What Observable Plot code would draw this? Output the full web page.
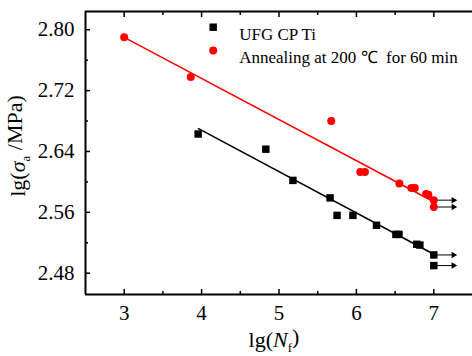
<!DOCTYPE html>
<html><head><meta charset="utf-8">
<script src="https://cdn.jsdelivr.net/npm/d3@7"></script>
<script src="https://cdn.jsdelivr.net/npm/@observablehq/plot@0.6"></script>
<style>
body{margin:0;background:#fff;}
#chart svg{font-family:"Liberation Serif","Times New Roman",serif;}
</style></head><body><div id="chart"></div>
<script>
// UFG CP Ti (black squares)
const ufgX = [3.955, 4.83, 5.18, 5.66, 5.75, 5.955, 6.26, 6.51, 6.55, 6.78, 6.82, 7.0, 7.0];
const ufgY = [2.663, 2.643, 2.602, 2.579, 2.556, 2.556, 2.543, 2.531, 2.531, 2.518, 2.517, 2.504, 2.490];
// Annealing at 200 C for 60 min (red circles)
const annX = [3.0, 3.86, 5.675, 6.05, 6.11, 6.555, 6.71, 6.755, 6.9, 6.93, 7.0, 7.0];
const annY = [2.790, 2.738, 2.680, 2.613, 2.613, 2.598, 2.592, 2.592, 2.584, 2.583, 2.576, 2.567];
// fitted lines
const ufgFitX = [3.96, 7.0];
const ufgFitY = [2.670, 2.505];
const annFitX = [3.0, 7.0];
const annFitY = [2.790, 2.574];
// run-outs (arrows)
const runoutY = [2.576, 2.567, 2.504, 2.490];
const runoutStart = 7.0;
const runoutEnd = 7.28;
// ticks
const xTicks = [3, 4, 5, 6, 7];
const xMinor = [3.5, 4.5, 5.5, 6.5];
const yTicks = [2.48, 2.56, 2.64, 2.72, 2.80];
const yMinor = [2.52, 2.60, 2.68, 2.76];
const xDomain = [2.5, 7.5];
const yDomain = [2.452, 2.824];
const seriesNames = ["UFG CP Ti", "Annealing at 200 \u2103  for 60 min"];

const ufg = ufgX.map((x, i) => ({x, y: ufgY[i]}));
const ann = annX.map((x, i) => ({x, y: annY[i]}));
const ufgFit = ufgFitX.map((x, i) => ({x, y: ufgFitY[i]}));
const annFit = annFitX.map((x, i) => ({x, y: annFitY[i]}));
const runouts = runoutY.map(y => ({x1: runoutStart, x2: runoutEnd, y}));

const plot = Plot.plot({
  width: 472, height: 356,
  marginLeft: 85, marginRight: 0, marginTop: 11, marginBottom: 62,
  style: {fontFamily: "Liberation Serif, Times New Roman, serif", fontSize: "21px", color: "black", background: "white"},
  x: {domain: xDomain, label: null},
  y: {domain: yDomain, label: null},
  marks: [
    Plot.axisX(xTicks, {anchor: "bottom", tickSize: 0, tickPadding: 11, fontSize: 21, stroke: null}),
    Plot.axisX(xTicks, {anchor: "bottom", tickSize: -5, tickFormat: () => "", strokeWidth: 1.5}),
    Plot.axisX(xMinor, {anchor: "bottom", tickSize: -3, tickFormat: () => "", strokeWidth: 1.5}),
    Plot.axisX(xTicks, {anchor: "top", tickSize: -5, tickFormat: () => "", strokeWidth: 1.5}),
    Plot.axisX(xMinor, {anchor: "top", tickSize: -3, tickFormat: () => "", strokeWidth: 1.5}),
    Plot.axisY(yTicks, {anchor: "left", tickSize: 0, tickPadding: 11, fontSize: 21, tickFormat: d3.format(".2f")}),
    Plot.axisY(yTicks, {anchor: "left", tickSize: -5, tickFormat: () => "", strokeWidth: 1.5}),
    Plot.axisY(yMinor, {anchor: "left", tickSize: -3, tickFormat: () => "", strokeWidth: 1.5}),
    Plot.ruleY([yDomain[0]], {strokeWidth: 2}),
    Plot.ruleY([yDomain[1]], {strokeWidth: 2}),
    Plot.ruleX([xDomain[0]], {strokeWidth: 2}),
    Plot.line(annFit, {x: "x", y: "y", stroke: "#ff0000", strokeWidth: 1.6}),
    Plot.line(ufgFit, {x: "x", y: "y", stroke: "black", strokeWidth: 1.6}),
    Plot.link(runouts, {x1: "x1", x2: "x2", y1: "y", y2: "y", stroke: "black", strokeWidth: 1}),
    Plot.dot(runouts, {x: "x2", y: "y", symbol: "triangle", rotate: 90, r: 2.4, fill: "black", dx: -2}),
    Plot.dot(ann, {x: "x", y: "y", r: 4, fill: "#ff0000"}),
    Plot.dot(ufg, {x: "x", y: "y", symbol: "square", r: 4.2, fill: "black"}),
    // legend
    Plot.dot([seriesNames[0]], {frameAnchor: "top-left", dx: 127.7, dy: 15.7, symbol: "square", r: 4.2, fill: "black"}),
    Plot.dot([seriesNames[1]], {frameAnchor: "top-left", dx: 127.7, dy: 39, r: 4, fill: "#ff0000"}),
    Plot.text([seriesNames[0]], {text: d => d, frameAnchor: "top-left", dx: 153.7, dy: 16.5, textAnchor: "start", fontSize: 17}),
    Plot.text([seriesNames[1]], {text: d => d, frameAnchor: "top-left", dx: 153.7, dy: 39.5, textAnchor: "start", fontSize: 17})
  ]
});

const svg = d3.select(plot);
// y-axis title
const yt = svg.append("text")
  .attr("transform", "translate(25,146) rotate(-90)")
  .attr("text-anchor", "middle")
  .attr("font-size", 22)
  .attr("fill", "black");
yt.append("tspan").text("lg(");
yt.append("tspan").attr("font-style", "italic").text("\u03c3");
yt.append("tspan").attr("font-size", 13).attr("dy", "0.35em").text("a");
yt.append("tspan").attr("dy", "-0.35em").text(" /MPa)");
// x-axis title
const xt = svg.append("text")
  .attr("x", 274).attr("y", 347)
  .attr("text-anchor", "middle")
  .attr("font-size", 22)
  .attr("fill", "black");
xt.append("tspan").text("lg(");
xt.append("tspan").attr("font-style", "italic").text("N");
xt.append("tspan").attr("font-size", 13).attr("dy", "0.35em").text("f");
xt.append("tspan").attr("dy", "-0.35em").text(")");

document.getElementById("chart").appendChild(plot);
</script></body></html>
